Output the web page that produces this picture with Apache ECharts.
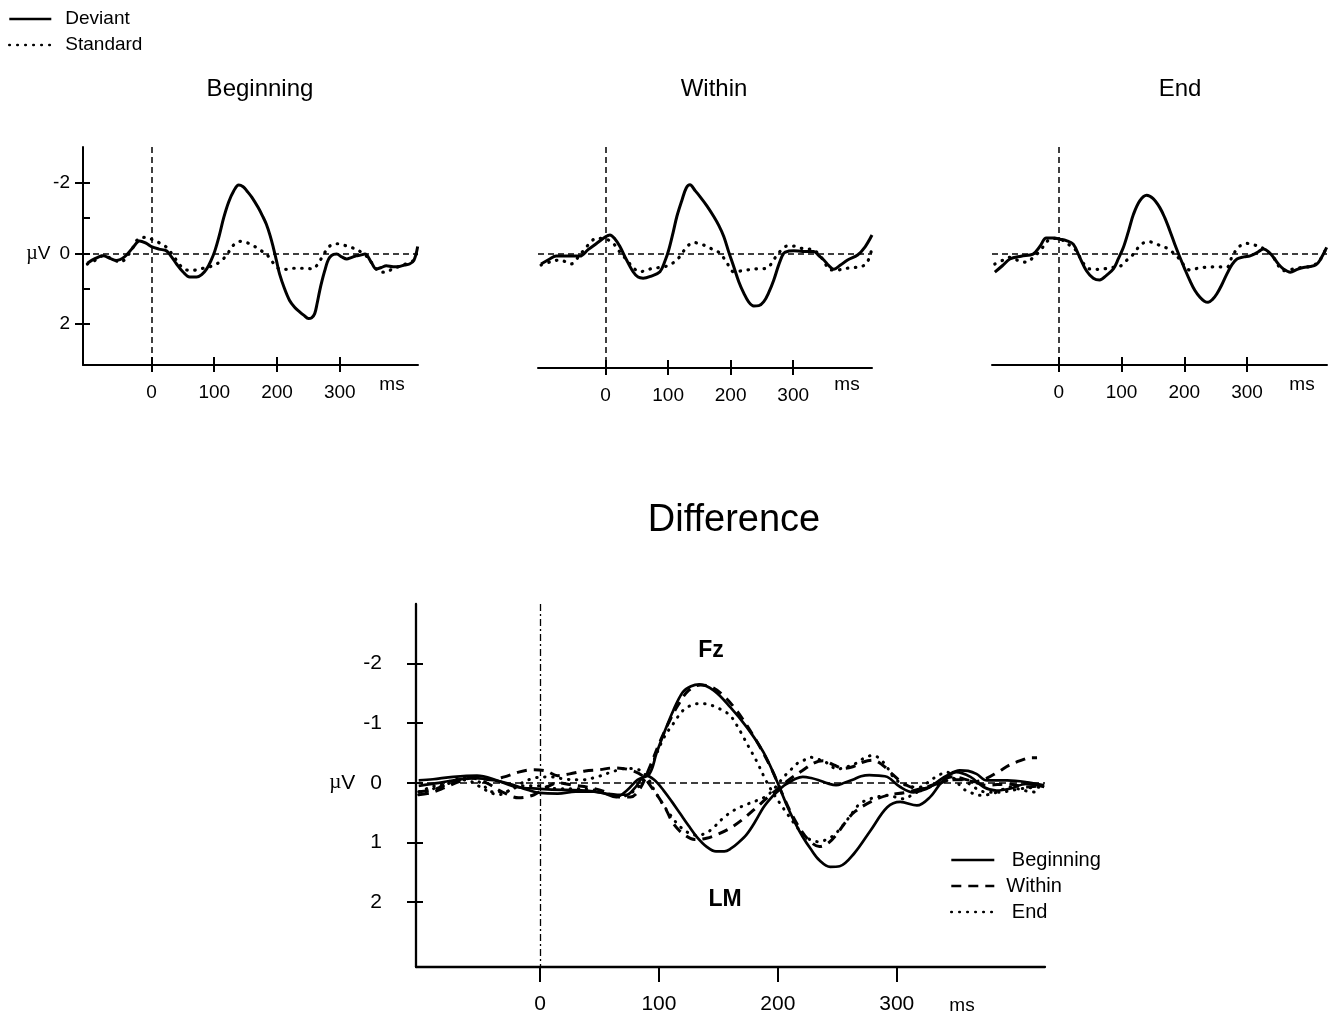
<!DOCTYPE html>
<html>
<head>
<meta charset="utf-8">
<script src="https://cdn.jsdelivr.net/npm/echarts@6/dist/echarts.min.js"></script>
<style>
html,body{margin:0;padding:0;background:#fff;}
#chart{width:1330px;height:1015px;}
</style>
</head>
<body>
<div id="chart"></div>
<script>
// ---------- data (time in ms, amplitude in µV; negative plotted upward) ----------
const panelTitles = ['Beginning', 'Within', 'End'];
const topLegendNames = ['Deviant', 'Standard'];
const diffLegendNames = ['Beginning', 'Within', 'End'];
const xTickValues = [0, 100, 200, 300];
const topYLabelValues = [-2, 0, 2];
const topYTickValues = [-2, -1, 0, 1, 2];
const diffYTickValues = [-2, -1, 0, 1, 2];

const begDeviant = [[-102,0.28],[-90,0.15],[-77,0.07],[-65,0.15],[-56,0.2],[-43,0.1],[-30,-0.15],[-19,-0.35],[-8,-0.28],[0,-0.19],[12,-0.12],[24,-0.07],[32,0.1],[40,0.3],[50,0.52],[61,0.67],[72,0.67],[80,0.6],[88,0.44],[95,0.2],[101,-0.07],[108,-0.5],[115,-1.0],[123,-1.45],[131,-1.76],[139,-1.93],[146,-1.88],[152,-1.76],[160,-1.58],[170,-1.29],[177,-1.05],[183,-0.82],[189,-0.5],[194,-0.17],[199,0.2],[204,0.58],[212,1.0],[220,1.33],[228,1.52],[236,1.65],[243,1.75],[250,1.84],[255,1.82],[260,1.7],[264,1.4],[268,1.05],[272,0.75],[276,0.49],[280,0.25],[284,0.11],[290,0.03],[295,0.02],[303,0.1],[311,0.16],[318,0.12],[326,0.07],[333,0.05],[340,0.02],[350,0.25],[358,0.44],[366,0.4],[374,0.35],[385,0.38],[395,0.37],[403,0.33],[411,0.3],[418,0.2],[424,-0.19]];
const begStandard = [[-102,0.3],[-90,0.2],[-77,0.07],[-63,0.15],[-50,0.25],[-35,0.0],[-19,-0.43],[-8,-0.45],[0,-0.4],[12,-0.3],[24,-0.17],[32,0.0],[40,0.2],[48,0.38],[56,0.47],[66,0.48],[77,0.44],[88,0.4],[98,0.35],[108,0.25],[119,0.07],[130,-0.22],[141,-0.34],[152,-0.3],[162,-0.22],[172,-0.1],[183,0.02],[193,0.25],[204,0.44],[215,0.45],[226,0.42],[240,0.42],[250,0.43],[257,0.44],[265,0.3],[273,0.07],[281,-0.15],[289,-0.26],[297,-0.27],[305,-0.24],[315,-0.18],[326,-0.12],[334,-0.03],[342,0.07],[350,0.25],[358,0.44],[366,0.53],[374,0.53],[385,0.42],[395,0.37],[405,0.3],[417,0.2],[424,-0.12]];

const witDeviant = [[-103,0.28],[-90,0.15],[-79,0.06],[-60,0.06],[-41,0.06],[-28,-0.12],[-14,-0.3],[0,-0.48],[7,-0.53],[15,-0.42],[23,-0.21],[33,0.15],[44,0.5],[52,0.65],[60,0.68],[73,0.62],[87,0.5],[95,0.2],[101,-0.11],[108,-0.6],[114,-1.05],[122,-1.5],[129,-1.85],[135,-1.94],[143,-1.78],[151,-1.61],[162,-1.35],[173,-1.05],[181,-0.8],[189,-0.49],[197,-0.05],[205,0.36],[213,0.78],[221,1.1],[229,1.35],[237,1.46],[245,1.45],[253,1.34],[261,1.08],[269,0.73],[277,0.3],[285,-0.02],[293,-0.08],[301,-0.09],[315,-0.07],[333,-0.07],[341,0.05],[349,0.17],[357,0.33],[365,0.43],[375,0.32],[387,0.17],[403,0.03],[415,-0.2],[426,-0.53]];
const witStandard = [[-103,0.31],[-88,0.22],[-73,0.17],[-64,0.22],[-55,0.28],[-42,0.05],[-30,-0.21],[-14,-0.44],[0,-0.42],[12,-0.3],[23,-0.05],[34,0.17],[45,0.4],[55,0.5],[66,0.45],[76,0.4],[87,0.38],[98,0.34],[108,0.25],[119,0.07],[130,-0.2],[141,-0.32],[152,-0.28],[162,-0.21],[172,-0.12],[183,-0.02],[194,0.25],[205,0.5],[215,0.48],[226,0.45],[240,0.42],[258,0.4],[266,0.25],[274,0.03],[282,-0.12],[290,-0.22],[300,-0.22],[312,-0.16],[322,-0.14],[333,-0.11],[345,0.1],[352,0.3],[360,0.45],[370,0.45],[387,0.4],[398,0.38],[408,0.36],[418,0.25],[426,-0.16]];

const endDeviant = [[-102,0.53],[-90,0.35],[-78,0.16],[-60,0.08],[-41,0.02],[-30,-0.2],[-20,-0.43],[-8,-0.43],[2,-0.4],[12,-0.36],[23,-0.26],[33,0.1],[44,0.49],[55,0.7],[65,0.75],[76,0.62],[87,0.44],[95,0.15],[103,-0.17],[111,-0.62],[119,-1.1],[129,-1.48],[140,-1.64],[150,-1.55],[161,-1.29],[169,-1.0],[177,-0.64],[185,-0.25],[193,0.11],[201,0.45],[209,0.77],[217,1.05],[225,1.24],[232,1.35],[238,1.38],[245,1.3],[252,1.14],[260,0.88],[268,0.58],[276,0.32],[284,0.16],[295,0.1],[305,0.07],[316,-0.02],[326,-0.12],[334,-0.05],[342,0.11],[350,0.3],[358,0.44],[369,0.53],[380,0.45],[390,0.4],[401,0.37],[410,0.32],[416,0.2],[427,-0.17]];
const endStandard = [[-102,0.3],[-90,0.2],[-78,0.11],[-65,0.2],[-52,0.25],[-40,0.1],[-30,-0.07],[-14,-0.4],[-4,-0.42],[7,-0.36],[18,-0.22],[28,-0.07],[38,0.25],[49,0.44],[60,0.45],[71,0.44],[85,0.4],[97,0.37],[108,0.2],[119,0.02],[131,-0.25],[143,-0.33],[157,-0.25],[172,-0.15],[180,-0.05],[188,0.07],[198,0.3],[209,0.47],[222,0.42],[236,0.39],[252,0.38],[268,0.39],[276,0.1],[284,-0.12],[292,-0.25],[299,-0.28],[310,-0.24],[321,-0.19],[332,-0.05],[342,0.11],[350,0.35],[358,0.49],[366,0.48],[374,0.44],[387,0.4],[401,0.37],[410,0.3],[416,0.2],[427,-0.17]];

// Difference waves: Fz and LM for each condition
const fzBeginning = [[-102,-0.04],[-90,-0.06],[-73,-0.1],[-53,-0.12],[-36,-0.04],[-20,0.07],[0,0.1],[20,0.12],[39,0.13],[53,0.17],[64,0.24],[73,0.13],[82,-0.05],[92,-0.15],[98,-0.5],[104,-0.82],[112,-1.21],[120,-1.52],[127,-1.62],[134,-1.65],[146,-1.55],[160,-1.27],[174,-0.93],[188,-0.51],[199,-0.04],[207,0.35],[214,0.65],[221,0.91],[228,1.12],[235,1.3],[244,1.41],[252,1.4],[264,1.19],[278,0.8],[292,0.41],[303,0.32],[317,0.38],[328,0.24],[339,-0.04],[350,-0.18],[362,-0.1],[373,0.07],[384,0.13],[395,0.1],[409,0.02],[424,0.07]];
const lmBeginning = [[-102,0.05],[-85,0.0],[-70,-0.05],[-55,-0.08],[-40,-0.05],[-25,0.02],[-10,0.12],[0,0.17],[15,0.18],[30,0.15],[45,0.15],[55,0.18],[65,0.2],[73,0.2],[80,0.08],[89,-0.12],[96,-0.05],[104,0.13],[111,0.32],[118,0.52],[125,0.72],[132,0.91],[140,1.07],[148,1.15],[155,1.15],[160,1.11],[167,1.0],[174,0.86],[181,0.65],[188,0.41],[194,0.26],[199,0.16],[205,0.05],[210,-0.01],[215,-0.07],[221,-0.1],[228,-0.08],[235,-0.04],[242,0.01],[249,0.04],[256,0.0],[263,-0.05],[270,-0.11],[277,-0.13],[285,-0.12],[292,-0.1],[303,0.07],[314,0.16],[321,0.13],[328,0.07],[335,-0.03],[342,-0.12],[353,-0.21],[360,-0.2],[367,-0.15],[376,-0.04],[393,-0.04],[410,-0.01],[424,0.04]];
const fzWithin = [[-102,0.2],[-92,0.17],[-80,0.08],[-68,-0.02],[-58,-0.08],[-45,0.0],[-32,0.15],[-18,0.25],[-5,0.2],[5,0.08],[15,0.0],[28,0.04],[42,0.08],[55,0.15],[66,0.24],[76,0.24],[84,0.1],[92,-0.25],[100,-0.65],[108,-1.0],[116,-1.3],[125,-1.55],[135,-1.64],[145,-1.6],[155,-1.45],[165,-1.22],[175,-0.93],[185,-0.6],[195,-0.22],[203,0.15],[211,0.5],[219,0.78],[227,0.98],[235,1.07],[243,1.0],[250,0.85],[258,0.63],[265,0.48],[278,0.32],[292,0.21],[308,0.16],[320,0.1],[333,0.02],[347,-0.1],[361,-0.04],[376,0.04],[393,0.02],[409,0.07],[424,0.04]];
const lmWithin = [[-102,0.15],[-90,0.12],[-78,0.02],[-66,-0.06],[-55,-0.1],[-42,-0.05],[-30,-0.1],[-18,-0.18],[-5,-0.22],[5,-0.2],[15,-0.12],[25,-0.15],[38,-0.2],[50,-0.22],[62,-0.25],[75,-0.22],[86,-0.12],[94,0.08],[100,0.25],[106,0.45],[112,0.68],[120,0.85],[130,0.95],[140,0.93],[150,0.86],[160,0.76],[170,0.62],[180,0.45],[190,0.27],[200,0.1],[210,-0.06],[221,-0.21],[230,-0.33],[238,-0.37],[247,-0.3],[255,-0.24],[263,-0.27],[272,-0.35],[280,-0.38],[288,-0.3],[296,-0.15],[305,0.0],[313,0.08],[320,0.1],[333,0.04],[345,-0.05],[355,-0.05],[365,-0.02],[375,-0.07],[385,-0.18],[395,-0.3],[405,-0.38],[412,-0.42],[418,-0.42]];
const fzEnd = [[-102,0.15],[-90,0.06],[-75,-0.03],[-60,-0.1],[-50,0.0],[-40,0.15],[-30,0.15],[-15,0.05],[0,0.05],[15,0.1],[30,0.1],[45,0.12],[60,0.2],[70,0.22],[80,0.12],[88,-0.08],[95,-0.35],[104,-0.75],[112,-0.99],[120,-1.21],[127,-1.3],[134,-1.33],[141,-1.32],[148,-1.27],[155,-1.2],[160,-1.13],[166,-0.95],[171,-0.77],[177,-0.55],[182,-0.37],[190,-0.04],[196,0.17],[202,0.35],[209,0.55],[216,0.74],[222,0.88],[228,0.96],[235,0.99],[241,0.95],[247,0.88],[252,0.78],[258,0.63],[264,0.47],[269,0.35],[276,0.28],[283,0.24],[292,0.21],[299,0.24],[306,0.27],[313,0.2],[320,0.13],[333,0.02],[343,-0.04],[353,-0.07],[362,0.03],[370,0.13],[378,0.16],[387,0.16],[396,0.13],[404,0.1],[414,0.08],[424,0.07]];
const lmEnd = [[-102,0.2],[-90,0.1],[-75,0.0],[-62,-0.05],[-52,0.05],[-43,0.15],[-35,0.2],[-25,0.12],[-15,0.0],[-5,-0.08],[8,-0.1],[22,-0.06],[35,-0.05],[48,-0.1],[60,-0.18],[72,-0.24],[83,-0.22],[90,-0.1],[96,0.12],[103,0.35],[110,0.55],[117,0.72],[124,0.83],[132,0.88],[140,0.84],[147,0.73],[154,0.59],[160,0.5],[165,0.44],[174,0.36],[182,0.3],[188,0.25],[193,0.18],[199,0.05],[205,-0.1],[211,-0.22],[216,-0.32],[222,-0.38],[227,-0.43],[233,-0.4],[238,-0.37],[244,-0.3],[249,-0.23],[257,-0.26],[266,-0.33],[273,-0.42],[280,-0.46],[286,-0.4],[292,-0.26],[297,-0.1],[303,0.0],[308,0.04],[315,0.07],[320,0.07],[327,-0.02],[333,-0.1],[342,-0.18],[349,-0.05],[356,0.1],[363,0.17],[370,0.21],[381,0.18],[388,0.12],[395,0.07],[402,0.1],[410,0.14],[418,0.16]];

// ---------- layout & styles ----------
const FONT = '"Liberation Sans", Arial, sans-serif';
const BLACK = '#000';
const topGrids = [
  {left: 83, top: 147, width: 335, height: 218, xMin: -109, xMax: 424.5, yMin: -3, yMax: 3.15},
  {left: 538, top: 147, width: 334, height: 221, xMin: -108, xMax: 426, yMin: -3, yMax: 3.2},
  {left: 992, top: 147, width: 335, height: 218, xMin: -106.5, xMax: 427.5, yMin: -3, yMax: 3.15}
];
const diffGrid = {left: 416, top: 604, width: 629, height: 363, xMin: -104.3, xMax: 424.7, yMin: -3, yMax: 3.09};
const topData = [[begDeviant, begStandard], [witDeviant, witStandard], [endDeviant, endStandard]];

const solidTop = {color: BLACK, width: 3, type: 'solid'};
const dottedTop = {color: BLACK, width: 3.2, type: [0.5, 7.5], cap: 'round'};
const diffStyles = {
  Beginning: {color: BLACK, width: 2.7, type: 'solid'},
  Within: {color: BLACK, width: 3, type: [10, 7]},
  End: {color: BLACK, width: 3, type: [0.5, 7.5], cap: 'round'}
};

const grids = [], xAxes = [], yAxes = [], series = [];

const muRich = {
  mu: {fontFamily: '"Liberation Serif", "DejaVu Serif", serif', fontSize: 20, color: BLACK},
  v: {fontFamily: FONT, fontSize: 19, color: BLACK, padding: [0, 9, 0, 0]},
  mu2: {fontFamily: '"Liberation Serif", "DejaVu Serif", serif', fontSize: 21, color: BLACK},
  v2: {fontFamily: FONT, fontSize: 21, color: BLACK, padding: [0, 15, 0, 0]}
};

topGrids.forEach((g, i) => {
  grids.push({left: g.left, top: g.top, width: g.width, height: g.height, containLabel: false});
  const xi = xAxes.length;
  xAxes.push({
    type: 'value', gridIndex: i, min: g.xMin, max: g.xMax, position: 'bottom',
    axisLine: {show: true, onZero: false, lineStyle: {color: BLACK, width: 2}},
    axisTick: {show: true, inside: false, length: 7, customValues: xTickValues, lineStyle: {color: BLACK, width: 2}},
    axisLabel: {show: true, customValues: xTickValues, fontSize: 19, fontFamily: FONT, color: BLACK, margin: 18},
    splitLine: {show: false}
  });
  xAxes.push({
    type: 'value', gridIndex: i, min: g.xMin, max: g.xMax, position: 'bottom',
    axisLine: {show: false, onZero: false},
    axisTick: {show: true, inside: true, length: 8, customValues: xTickValues, lineStyle: {color: BLACK, width: 2}},
    axisLabel: {show: false}, splitLine: {show: false}
  });
  const yi = yAxes.length;
  const showY = i === 0;
  yAxes.push({
    type: 'value', gridIndex: i, min: g.yMin, max: g.yMax, inverse: true, position: 'left', show: showY,
    axisLine: {show: true, onZero: false, lineStyle: {color: BLACK, width: 2}},
    axisTick: {show: true, inside: false, length: 8, customValues: topYLabelValues, lineStyle: {color: BLACK, width: 2}},
    axisLabel: {show: true, customValues: topYLabelValues, fontSize: 19, fontFamily: FONT, color: BLACK, margin: 13,
      formatter: v => v === 0 ? '{mu|\u00b5}{v|V}0' : String(v), rich: muRich},
    splitLine: {show: false}
  });
  if (showY) {
    yAxes.push({
      type: 'value', gridIndex: i, min: g.yMin, max: g.yMax, inverse: true, position: 'left',
      axisLine: {show: false, onZero: false},
      axisTick: {show: true, inside: true, length: 7, customValues: topYTickValues, lineStyle: {color: BLACK, width: 2}},
      axisLabel: {show: false}, splitLine: {show: false}
    });
  }
  const [dev, std] = topData[i];
  series.push({
    name: topLegendNames[0], type: 'line', xAxisIndex: xi, yAxisIndex: yi, data: dev,
    symbol: 'none', showSymbol: false, smooth: 0.35, lineStyle: solidTop, itemStyle: {color: BLACK}, silent: true,
    markLine: {
      silent: true, symbol: ['none', 'none'], label: {show: false},
      lineStyle: {color: BLACK, width: 1.5, type: [6, 4]},
      data: [{yAxis: 0}, {xAxis: 0}]
    }
  });
  series.push({
    name: topLegendNames[1], type: 'line', xAxisIndex: xi, yAxisIndex: yi, data: std,
    symbol: 'none', showSymbol: false, smooth: 0.35, lineStyle: dottedTop, itemStyle: {color: BLACK}, silent: true
  });
});

// Difference grid
grids.push({left: diffGrid.left, top: diffGrid.top, width: diffGrid.width, height: diffGrid.height});
const dgi = grids.length - 1;
const dxi = xAxes.length;
xAxes.push({
  type: 'value', gridIndex: dgi, min: diffGrid.xMin, max: diffGrid.xMax, position: 'bottom',
  axisLine: {show: true, onZero: false, lineStyle: {color: BLACK, width: 2.3}},
  axisTick: {show: true, inside: false, length: 15, customValues: xTickValues, lineStyle: {color: BLACK, width: 2}},
  axisLabel: {show: true, customValues: xTickValues, fontSize: 21, fontFamily: FONT, color: BLACK, margin: 27},
  splitLine: {show: false}
});
const dyi = yAxes.length;
yAxes.push({
  type: 'value', gridIndex: dgi, min: diffGrid.yMin, max: diffGrid.yMax, inverse: true, position: 'left',
  axisLine: {show: true, onZero: false, lineStyle: {color: BLACK, width: 2.3}},
  axisTick: {show: true, inside: false, length: 9, customValues: diffYTickValues, lineStyle: {color: BLACK, width: 2}},
  axisLabel: {show: true, customValues: diffYTickValues, fontSize: 21, fontFamily: FONT, color: BLACK, margin: 34,
    formatter: v => v === 0 ? '{mu2|\u00b5}{v2|V}0' : String(v), rich: muRich},
  splitLine: {show: false}
});
yAxes.push({
  type: 'value', gridIndex: dgi, min: diffGrid.yMin, max: diffGrid.yMax, inverse: true, position: 'left',
  axisLine: {show: false, onZero: false},
  axisTick: {show: true, inside: true, length: 7, customValues: diffYTickValues, lineStyle: {color: BLACK, width: 2}},
  axisLabel: {show: false}, splitLine: {show: false}
});

const diffSeries = [
  ['Beginning', fzBeginning], ['Beginning', lmBeginning],
  ['Within', fzWithin], ['Within', lmWithin],
  ['End', fzEnd], ['End', lmEnd]
];
diffSeries.forEach(([name, data], k) => {
  const s = {
    name, type: 'line', xAxisIndex: dxi, yAxisIndex: dyi, data,
    symbol: 'none', showSymbol: false, smooth: 0.35, lineStyle: diffStyles[name], itemStyle: {color: BLACK}, silent: true
  };
  if (k === 0) {
    s.markLine = {
      silent: true, symbol: ['none', 'none'], label: {show: false},
      data: [
        {yAxis: 0, lineStyle: {color: BLACK, width: 1.6, type: [7, 4]}},
        {xAxis: 0, lineStyle: {color: BLACK, width: 1.3, type: [7, 3, 2, 3]}}
      ]
    };
  }
  series.push(s);
});

// ---------- text annotations ----------
function txt(text, x, y, size, bold) {
  return {type: 'text', silent: true, x, y, style: {
    text, fill: BLACK, font: (bold ? 'bold ' : '') + size + 'px ' + FONT,
    textAlign: 'center', textVerticalAlign: 'middle'
  }};
}
const titleCenters = [260, 714, 1180];
const msCenters = [392, 847, 1302];
const graphics = [];
panelTitles.forEach((t, i) => graphics.push(txt(t, titleCenters[i], 89, 24, false)));
msCenters.forEach(x => graphics.push(txt('ms', x, 385, 19, false)));
graphics.push(txt('Difference', 734, 521, 38, false));
graphics.push(txt('Fz', 711, 651, 23, true));
graphics.push(txt('LM', 725, 900, 23, true));
graphics.push(txt('ms', 962, 1006, 19, false));

const hiddenSymbol = {color: 'rgba(0,0,0,0)', borderWidth: 0, opacity: 0};
const option = {
  backgroundColor: '#fff',
  animation: false,
  grid: grids,
  xAxis: xAxes,
  yAxis: yAxes,
  legend: [
    {
      data: topLegendNames, orient: 'vertical', left: 8, top: 9, padding: 0,
      itemWidth: 42, itemHeight: 14, itemGap: 6, selectedMode: false,
      itemStyle: hiddenSymbol,
      lineStyle: {width: 2.6},
      textStyle: {fontSize: 19, lineHeight: 20, fontFamily: FONT, color: BLACK, padding: [0, 0, 0, 9]}
    },
    {
      data: diffLegendNames, orient: 'vertical', left: 950, top: 850, padding: 0,
      itemWidth: 43, itemHeight: 14, itemGap: 6, selectedMode: false,
      itemStyle: hiddenSymbol,
      lineStyle: {width: 2.6},
      formatter: n => n === 'Within' ? n : ' ' + n,
      textStyle: {fontSize: 20, lineHeight: 20, fontFamily: FONT, color: BLACK, padding: [0, 0, 0, 7]}
    }
  ],
  graphic: {elements: graphics},
  series
};

const chart = echarts.init(document.getElementById('chart'), null, {renderer: 'canvas', width: 1330, height: 1015});
chart.setOption(option);
</script>
</body>
</html>
